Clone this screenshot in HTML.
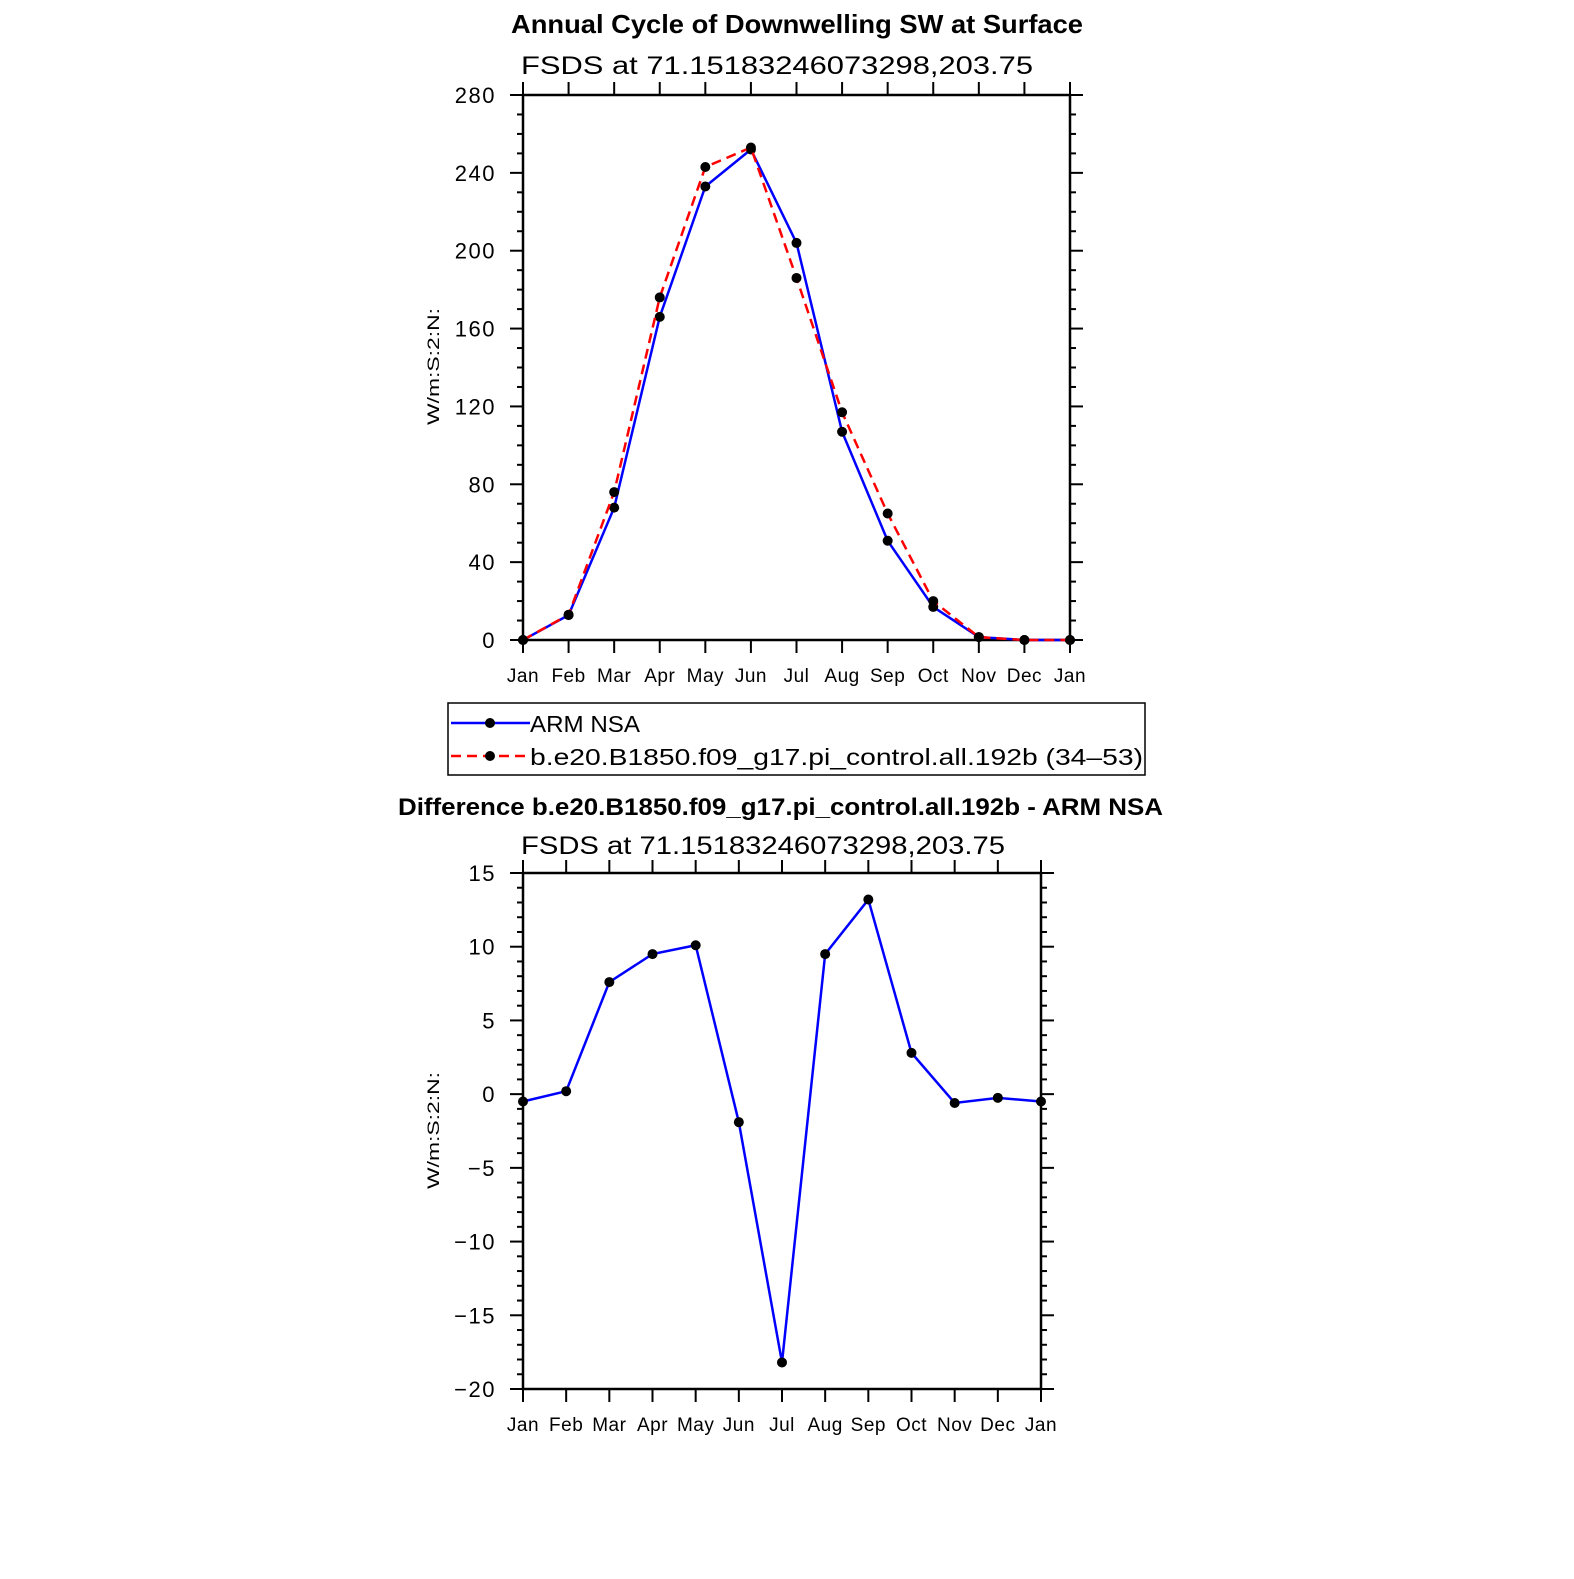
<!DOCTYPE html>
<html><head><meta charset="utf-8"><style>
body{margin:0;background:#fff;width:1574px;height:1574px;overflow:hidden}
svg{font-family:"Liberation Sans",sans-serif}
</style></head><body>
<svg id="s" width="1574" height="1574" xmlns="http://www.w3.org/2000/svg">
<text x="511" y="33" font-size="26" font-weight="bold" textLength="572" lengthAdjust="spacingAndGlyphs">Annual Cycle of Downwelling SW at Surface</text>
<text x="521" y="74" font-size="25" textLength="512" lengthAdjust="spacingAndGlyphs">FSDS  at  71.15183246073298,203.75</text>
<text x="398" y="815" font-size="24" font-weight="bold" textLength="765" lengthAdjust="spacingAndGlyphs">Difference b.e20.B1850.f09_g17.pi_control.all.192b - ARM NSA</text>
<text x="521" y="854" font-size="25" textLength="484" lengthAdjust="spacingAndGlyphs">FSDS  at  71.15183246073298,203.75</text>
<g>
<rect x="448" y="703" width="697" height="72" fill="none" stroke="#000" stroke-width="1.5"/>
<line x1="451" y1="723" x2="530" y2="723" stroke="#00f" stroke-width="2.5"/><circle cx="490" cy="723" r="5" fill="#000"/>
<text x="530" y="732" font-size="23" textLength="110" lengthAdjust="spacingAndGlyphs">ARM  NSA</text>
<line x1="451" y1="756" x2="530" y2="756" stroke="#f00" stroke-width="2.5" stroke-dasharray="10,6"/><circle cx="490" cy="756" r="5" fill="#000"/>
<text x="530" y="765" font-size="23" textLength="613" lengthAdjust="spacingAndGlyphs">b.e20.B1850.f09_g17.pi_control.all.192b  (34–53)</text>
</g>
<g id="g1"></g><g id="g2"></g>
</svg>
<script>
const months=["Jan","Feb","Mar","Apr","May","Jun","Jul","Aug","Sep","Oct","Nov","Dec","Jan"];
const armNSA=[0,12.8,68,166,233,252,204,107,51,17,1.5,0,0];
const model=[0,13,76,176,243,253,186,117,65,20,1.5,0,0];
const diff=[-0.5,0.2,7.6,9.5,10.1,-1.9,-18.2,9.5,13.2,2.8,-0.6,-0.25,-0.5];
const topTicks=[0,40,80,120,160,200,240,280];
const botTicks=[15,10,5,0,-5,-10,-15,-20];
const NS="http://www.w3.org/2000/svg";
function el(p,t,a){const e=document.createElementNS(NS,t);for(const k in a)e.setAttribute(k,a[k]);p.appendChild(e);return e;}
function panel(g,L,R,T,B,ymin,ymax,major,minor,ticks,series,ytitleY,ylab){
 const sx=i=>L+(R-L)*i/12, sy=v=>B-(v-ymin)/(ymax-ymin)*(B-T);
 const ax=el(g,'rect',{x:L,y:T,width:R-L,height:B-T,fill:'none',stroke:'#000','stroke-width':2.5});
 
 
 for(let v=ymin;v<=ymax+1e-9;v+=minor){const y=sy(v);const isM=Math.abs(Math.round(v/major)*major-v)<1e-6;const len=isM?13:6;
  el(g,'line',{x1:L-len,y1:y,x2:L,y2:y,stroke:'#000','stroke-width':2});el(g,'line',{x1:R,y1:y,x2:R+len,y2:y,stroke:'#000','stroke-width':2});}
 ticks.forEach(v=>{const t=el(g,'text',{x:L-27,y:sy(v)+8,'font-size':22,'letter-spacing':1.5,'text-anchor':'end'});t.textContent=(v<0?'−'+(-v):v);
  
  });
 months.forEach((m,i)=>{const x=sx(i);el(g,'line',{x1:x,y1:B,x2:x,y2:B+13,stroke:'#000','stroke-width':2});el(g,'line',{x1:x,y1:T-13,x2:x,y2:T,stroke:'#000','stroke-width':2});
  const t=el(g,'text',{x:x,y:B+42,'font-size':19,'letter-spacing':0.5,'text-anchor':'middle'});t.textContent=m;
  
  });
 const yt=el(g,'text',{x:-58,y:0,'font-size':17,textLength:117,lengthAdjust:'spacingAndGlyphs',transform:`translate(439,${ytitleY}) rotate(-90)`});yt.textContent=ylab;
 
 
 series.forEach(s=>{const p=el(g,'polyline',{points:s.d.map((v,i)=>sx(i)+','+sy(v)).join(' '),fill:'none',stroke:s.c,'stroke-width':2.5,'stroke-dasharray':s.dash||'none'});
  
  
  s.d.forEach((v,i)=>{const c=el(g,'circle',{cx:sx(i),cy:sy(v),r:5,fill:'#000'});
   
   });});
}
panel(document.getElementById('g1'),523,1070,95,640,0,280,40,10,topTicks,
 [{d:armNSA,c:'#00f',n:'arm-nsa-line'},{d:model,c:'#f00',dash:'10,6',n:'model-line'}],367,'W/m:S:2:N:');
panel(document.getElementById('g2'),523,1041,873,1389,-20,15,5,1,botTicks,
 [{d:diff,c:'#00f',n:'difference-line'}],1131,'W/m:S:2:N:');
</script>
</body></html>
